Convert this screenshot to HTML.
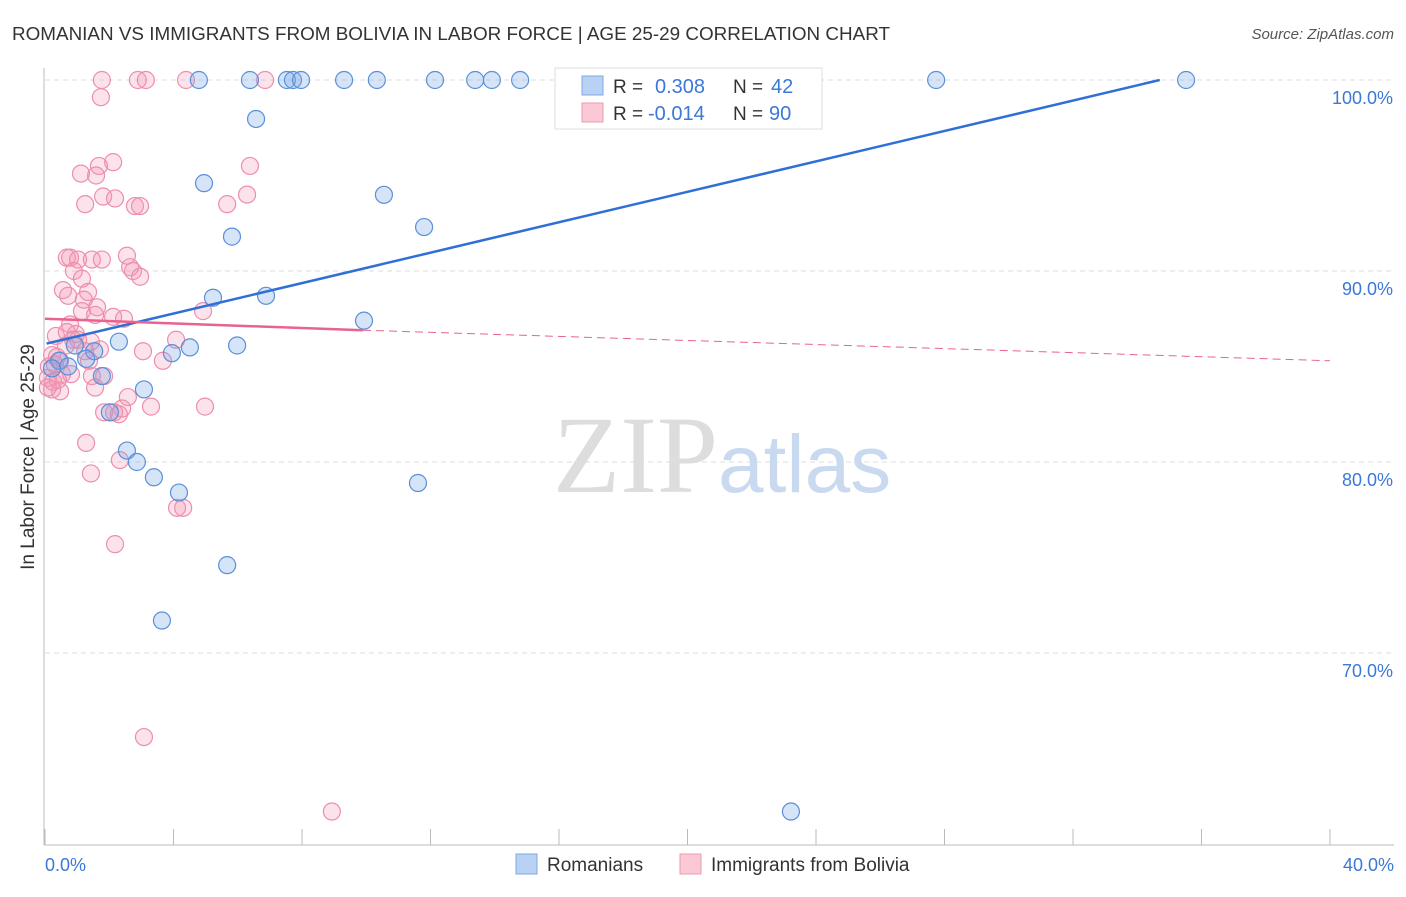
<!DOCTYPE html>
<html><head><meta charset="utf-8"><style>
body{margin:0;background:#fff;font-family:"Liberation Sans",sans-serif;}
</style></head><body>
<svg id="chart" width="1406" height="892" xmlns="http://www.w3.org/2000/svg" font-family="Liberation Sans, sans-serif">
<text x="12" y="40" font-size="18" fill="#333" textLength="878" lengthAdjust="spacingAndGlyphs">ROMANIAN VS IMMIGRANTS FROM BOLIVIA IN LABOR FORCE | AGE 25-29 CORRELATION CHART</text>
<text x="1394" y="39" font-size="15" fill="#555" font-style="italic" text-anchor="end">Source: ZipAtlas.com</text>
<g id="grid"></g>
<text x="553" y="492" font-size="110" fill="#ddd" font-family="Liberation Serif, serif">ZIP<tspan fill="#c9daf0" font-family="Liberation Sans, sans-serif" font-size="82">atlas</tspan></text>
<line x1="44" y1="68" x2="44" y2="845" stroke="#bbb"/>
<line x1="44" y1="845" x2="1394" y2="845" stroke="#bbb"/>
<text transform="translate(34,457) rotate(-90)" font-size="19" fill="#333" text-anchor="middle">In Labor Force | Age 25-29</text>
<text x="45" y="871" font-size="18" fill="#3b78d8">0.0%</text>
<text x="1394" y="871" font-size="18" fill="#3b78d8" text-anchor="end">40.0%</text>
<g id="pts"></g>
<g id="lines"></g>
<g>
<rect x="555" y="68" width="267" height="61" fill="#fff" stroke="#ddd"/>
<rect x="582" y="76" width="21" height="19" fill="#b9d1f3" stroke="#7fa8e3"/>
<rect x="582" y="103" width="21" height="19" fill="#fbc8d6" stroke="#ee9ab3"/>
<text x="613" y="93" font-size="19" fill="#333">R = </text><text x="655" y="93" font-size="20" fill="#3b78d8">0.308</text>
<text x="733" y="93" font-size="19" fill="#333">N = </text><text x="771" y="93" font-size="20" fill="#3b78d8">42</text>
<text x="613" y="120" font-size="19" fill="#333">R = </text><text x="648" y="120" font-size="20" fill="#3b78d8">-0.014</text>
<text x="733" y="120" font-size="19" fill="#333">N = </text><text x="769" y="120" font-size="20" fill="#3b78d8">90</text>
</g>
<g>
<rect x="516" y="854" width="21" height="20" fill="#b9d1f3" stroke="#7fa8e3"/>
<text x="547" y="871" font-size="19" fill="#333">Romanians</text>
<rect x="680" y="854" width="21" height="20" fill="#fbc8d6" stroke="#ee9ab3"/>
<text x="711" y="871" font-size="19" fill="#333">Immigrants from Bolivia</text>
</g>
</svg>
<script>
const yTicks=[100,90,80,70];
const yTickLabels=["100.0%","90.0%","80.0%","70.0%"];
const xTicks=[0,4,8,12,16,20,24,28,32,36,40];
const romX=[4.79,6.38,7.53,7.72,7.97,9.31,10.33,12.14,13.39,13.91,14.79,27.74,35.52,6.57,4.95,10.55,11.8,5.82,5.23,6.88,9.93,2.30,4.51,5.98,3.95,1.53,0.93,0.44,0.72,1.28,3.08,1.77,2.02,2.55,2.86,3.39,4.17,11.61,5.67,3.64,23.22,0.22];
const romY=[100,100,100,100,100,100,100,100,100,100,100,100,100,97.96,94.6,93.99,92.3,91.8,88.6,88.7,87.4,86.3,86.0,86.1,85.7,85.8,86.1,85.3,85.0,85.4,83.8,84.5,82.6,80.6,80.0,79.2,78.4,78.9,74.6,71.7,61.7,84.9];
const bolX=[1.77,2.89,3.14,4.39,6.85,1.74,2.12,1.68,1.12,1.59,6.38,1.25,1.81,2.18,2.80,2.96,5.67,6.29,0.68,0.78,1.03,1.46,1.77,2.55,0.90,2.65,2.74,2.96,1.15,0.56,1.34,0.72,1.21,1.62,1.15,2.12,2.46,4.92,0.78,0.34,0.68,0.96,1.03,1.43,4.08,3.05,3.67,0.22,0.37,0.47,0.12,0.09,0.25,0.53,0.81,0.47,0.22,1.46,1.84,1.56,2.58,2.40,1.84,2.15,2.30,3.30,4.98,1.28,2.33,1.43,4.11,4.30,2.18,3.08,8.93,0.31,1.71,1.25,0.40,0.09,0.87,1.37,1.56,0.65];
const bolY=[100,100,100,100,100,99.1,95.7,95.5,95.1,95.0,95.5,93.5,93.9,93.8,93.4,93.4,93.5,94.0,90.7,90.7,90.6,90.6,90.6,90.8,90.0,90.2,90.0,89.7,89.6,89.0,88.9,88.7,88.5,88.1,87.9,87.6,87.5,87.9,87.2,86.6,86.8,86.7,86.4,86.3,86.4,85.8,85.3,85.6,85.5,85.3,85.0,84.4,84.2,84.6,84.6,83.7,83.8,84.5,84.5,83.9,83.4,82.8,82.6,82.6,82.5,82.9,82.9,81.0,80.1,79.4,77.6,77.6,75.7,65.6,61.7,85.1,85.9,85.8,84.3,83.9,86.4,85.3,87.7,86.1];
const romTrendX=[0.05,34.7];
const romTrendY=[86.2,100];
const bolTrendX=[0,9.9,40];
const bolTrendY=[87.5,86.9,85.3];
const NS="http://www.w3.org/2000/svg";
const sx=v=>45+v*32.125;
const sy=v=>80+(100-v)*19.1;
function mk(tag,attrs,parent){const e=document.createElementNS(NS,tag);for(const k in attrs)e.setAttribute(k,attrs[k]);parent.appendChild(e);return e;}
const grid=document.getElementById('grid');
yTicks.forEach((t,i)=>{
 const l=mk('line',{x1:45,x2:1394,y1:sy(t),y2:sy(t),stroke:'#ddd','stroke-dasharray':'5,4'},grid);
 
 
 const tx=mk('text',{x:1393,y:sy(t)+24,'font-size':18,fill:'#3b78d8','text-anchor':'end'},grid);
 tx.textContent=yTickLabels[i];
 
 
});
xTicks.forEach(t=>{
 const l=mk('line',{x1:sx(t),x2:sx(t),y1:829,y2:845,stroke:'#bbb'},grid);
 
 
});
const pts=document.getElementById('pts');
bolX.forEach((x,i)=>{
 const c=mk('circle',{cx:sx(x),cy:sy(bolY[i]),r:8.5,fill:'rgba(244,150,180,0.28)',stroke:'#ec8fae','stroke-width':1.2},pts);
 
 
});
romX.forEach((x,i)=>{
 const c=mk('circle',{cx:sx(x),cy:sy(romY[i]),r:8.5,fill:'rgba(120,165,230,0.3)',stroke:'#5b8fd9','stroke-width':1.2},pts);
 
 
});
const lines=document.getElementById('lines');
const bl=mk('line',{x1:sx(romTrendX[0]),y1:sy(romTrendY[0]),x2:sx(romTrendX[1]),y2:sy(romTrendY[1]),stroke:'#2f6fd6','stroke-width':2.5},lines);


const pl=mk('line',{x1:sx(bolTrendX[0]),y1:sy(bolTrendY[0]),x2:sx(bolTrendX[1]),y2:sy(bolTrendY[1]),stroke:'#e8638f','stroke-width':2.5},lines);


const pd=mk('line',{x1:sx(bolTrendX[1]),y1:sy(bolTrendY[1]),x2:sx(bolTrendX[2]),y2:sy(bolTrendY[2]),stroke:'#e8638f','stroke-width':1,'stroke-dasharray':'8,5'},lines);


</script>
</body></html>
